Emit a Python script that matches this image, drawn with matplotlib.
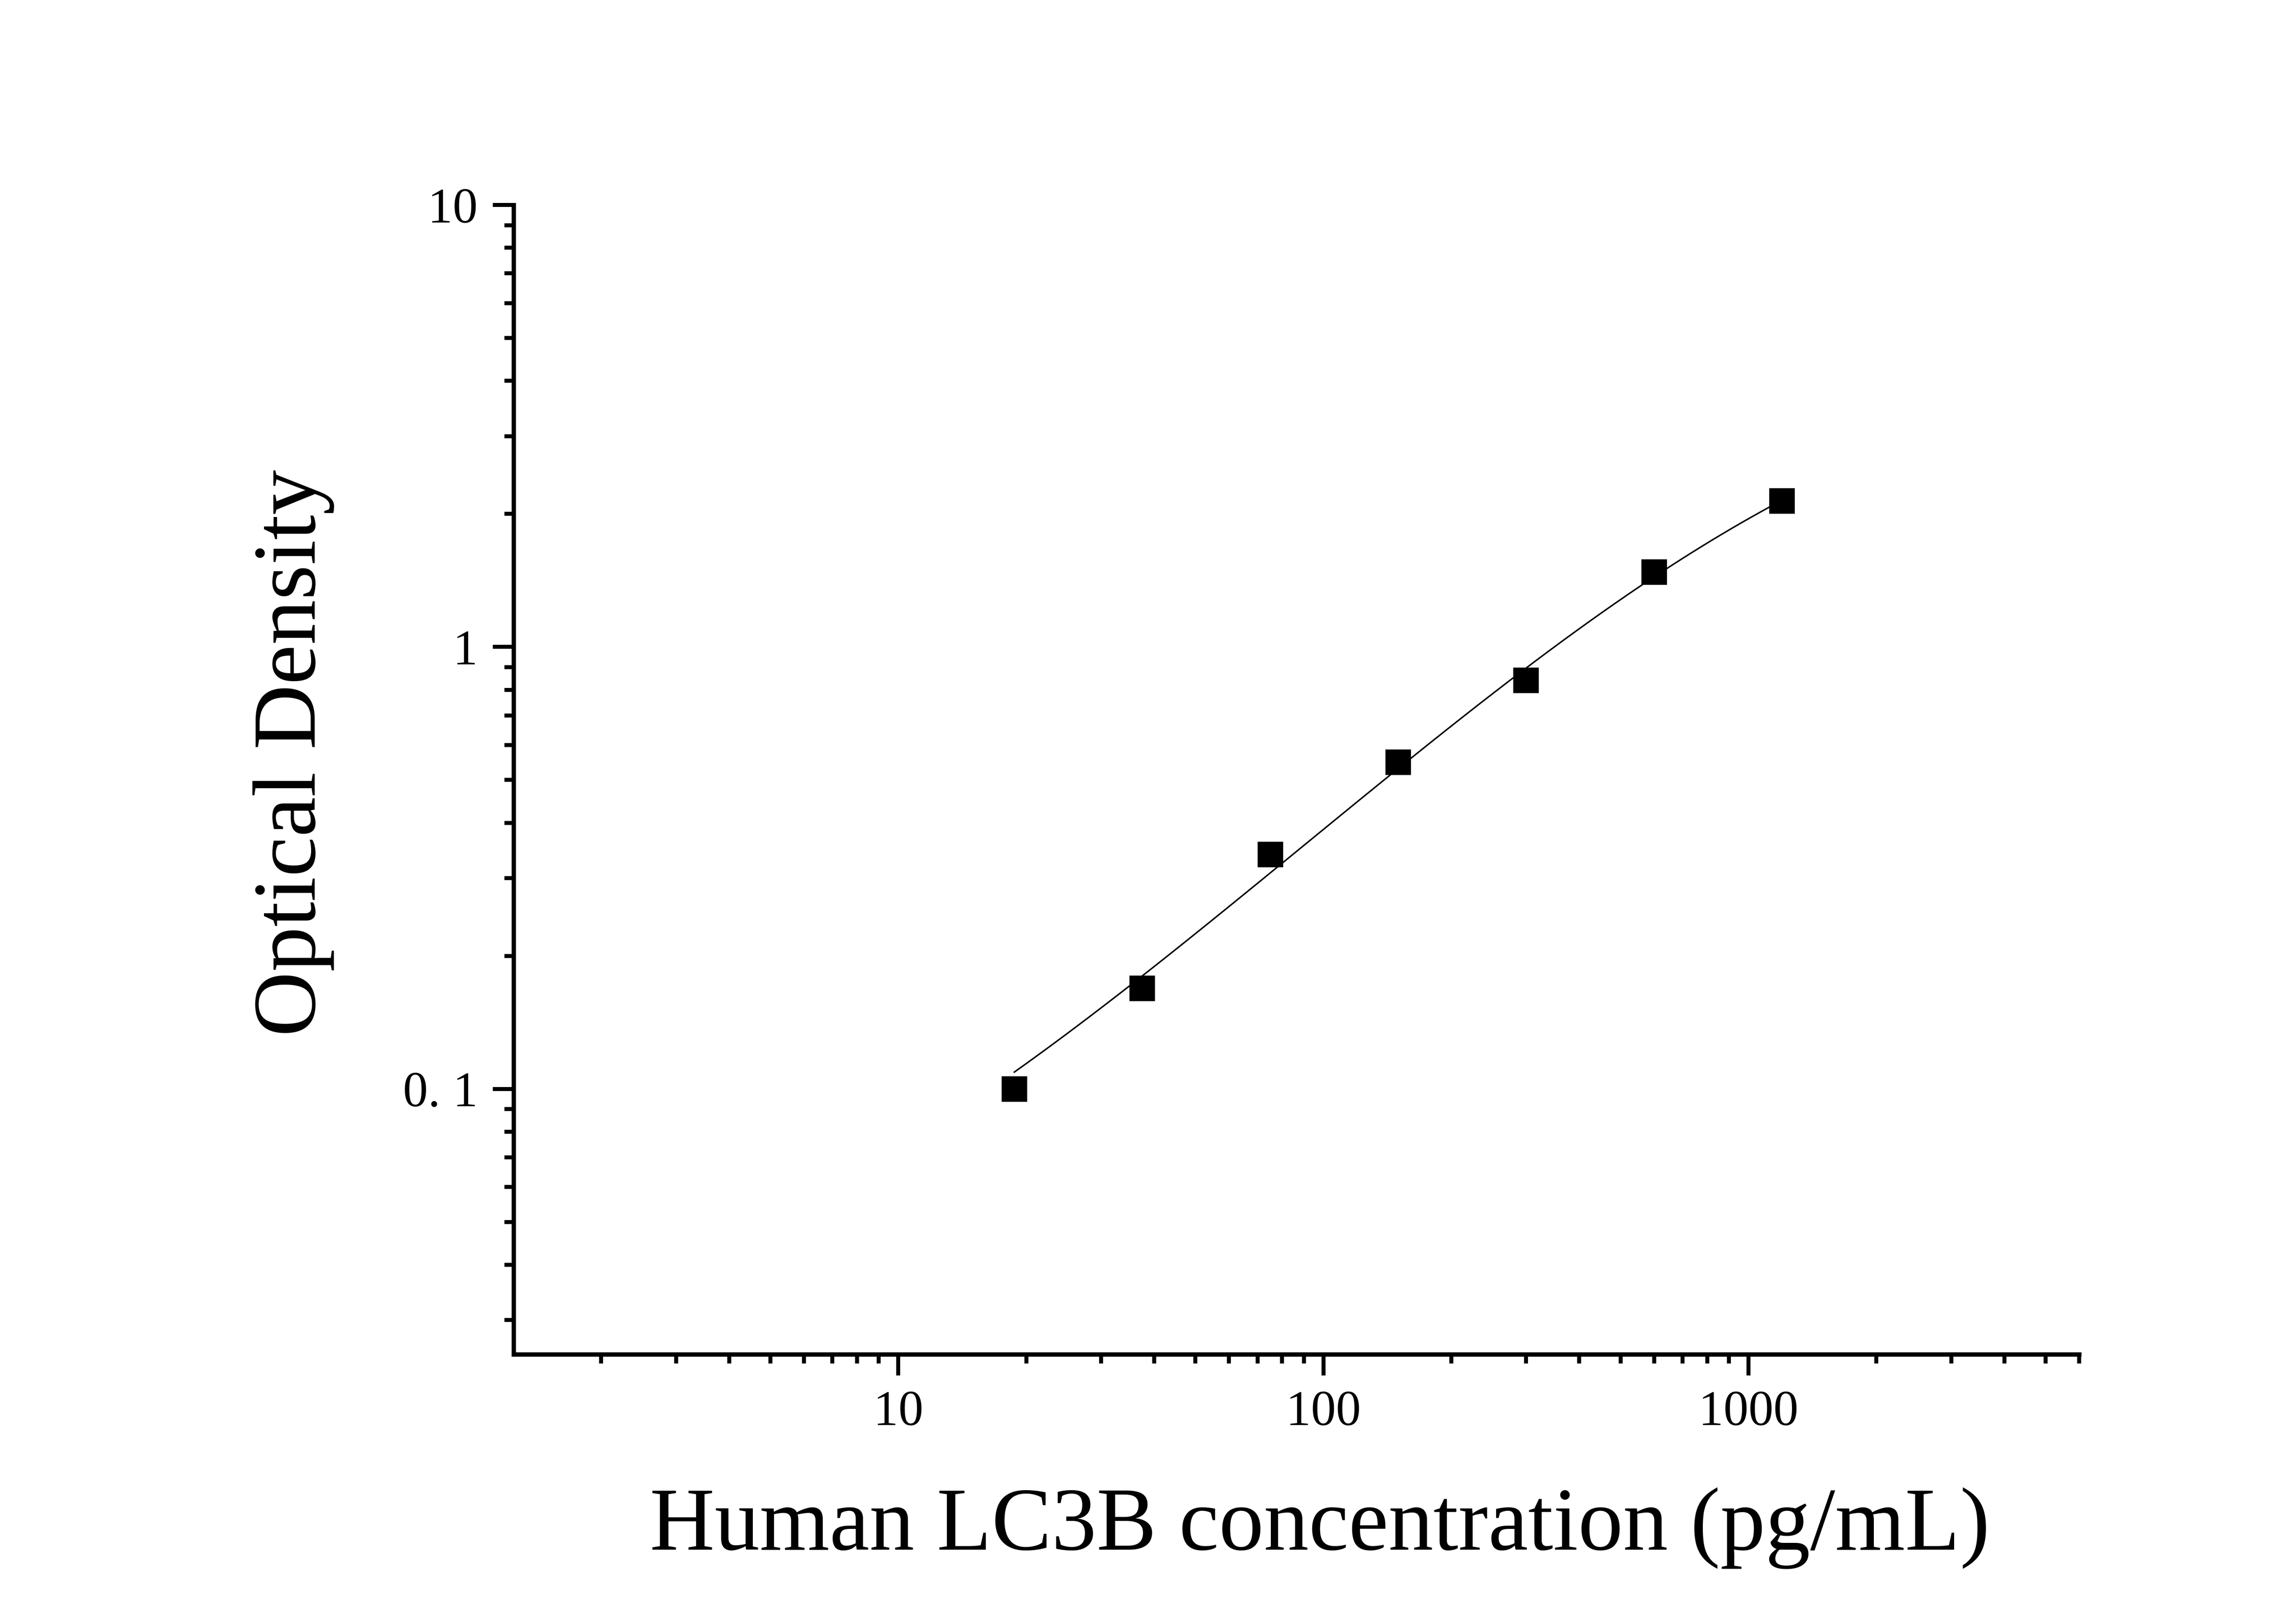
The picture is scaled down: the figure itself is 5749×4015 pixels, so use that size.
import numpy as np
import matplotlib
matplotlib.use("Agg")
import matplotlib.pyplot as plt
from matplotlib.ticker import LogLocator, FixedLocator, FixedFormatter, NullFormatter

plt.rcParams['font.family'] = ['Liberation Serif', 'DejaVu Serif']

# standard curve data
conc = [18.75, 37.5, 75, 150, 300, 600, 1200]
od = [0.100, 0.169, 0.339, 0.549, 0.840, 1.476, 2.14]

x_ticks = [10, 100, 1000]
x_ticklabels = ['10', '100', '1000']
y_ticks = [0.1, 1, 10]
y_ticklabels = ['0. 1', '1', '10']

# four parameter logistic fit: grid over slope b and midpoint c,
# bottom a and top d solved by linear least squares
X = np.array(conc)
Y = np.array(od)
bs = np.linspace(0.5, 3.0, 251)
cs = np.logspace(2, 6, 401)
B, C = np.meshgrid(bs, cs, indexing='ij')
G = 1.0 / (1.0 + (X[None, None, :] / C[..., None]) ** B[..., None])
H = 1.0 - G
s_gg = (G * G).sum(-1)
s_hh = (H * H).sum(-1)
s_gh = (G * H).sum(-1)
s_gy = (G * Y).sum(-1)
s_hy = (H * Y).sum(-1)
det = s_gg * s_hh - s_gh ** 2
A = (s_gy * s_hh - s_hy * s_gh) / det
D = (s_hy * s_gg - s_gy * s_gh) / det
res = ((A[..., None] * G + D[..., None] * H - Y) ** 2).sum(-1)
i, j = np.unravel_index(np.nanargmin(res), res.shape)
a, b, c, d = A[i, j], B[i, j], C[i, j], D[i, j]

fig = plt.figure(figsize=(5749 / 600, 4015 / 600), dpi=600)
ax = fig.add_axes([0.2237, 0.1557, 0.6819, 0.7165])

xf = np.logspace(np.log10(conc[0]), np.log10(conc[-1]), 300)
yf = d + (a - d) / (1 + (xf / c) ** b)
ax.plot(xf, yf, color='black', lw=0.45)

ax.plot(conc, od, 's', color='black', markersize=7.7, markeredgewidth=0)

ax.set_xscale('log')
ax.set_yscale('log')
ax.set_xlim(1.245, 6001)
ax.set_ylim(0.0251, 10)

ax.xaxis.set_major_locator(FixedLocator(x_ticks))
ax.xaxis.set_major_formatter(FixedFormatter(x_ticklabels))
ax.xaxis.set_minor_locator(LogLocator(base=10, subs=np.arange(2, 10)))
ax.xaxis.set_minor_formatter(NullFormatter())
ax.yaxis.set_major_locator(FixedLocator(y_ticks))
ax.yaxis.set_major_formatter(FixedFormatter(y_ticklabels))
ax.yaxis.set_minor_locator(LogLocator(base=10, subs=np.arange(2, 10)))
ax.yaxis.set_minor_formatter(NullFormatter())

for s in ['top', 'right']:
    ax.spines[s].set_visible(False)
for s in ['left', 'bottom']:
    ax.spines[s].set_linewidth(1.3)

ax.tick_params(which='major', direction='out', length=6.3, width=1.2,
               labelsize=15, pad=4.5)
ax.tick_params(which='minor', direction='out', length=2.8, width=1.2)

fig.text(0.5749, 0.0341, 'Human LC3B concentration (pg/mL)', fontsize=27,
         ha='center', va='baseline')
fig.text(0.1278, 0.5305, 'Optical Density', fontsize=27, rotation=90,
         ha='center', va='center')

fig.savefig('out.png', dpi=600)
